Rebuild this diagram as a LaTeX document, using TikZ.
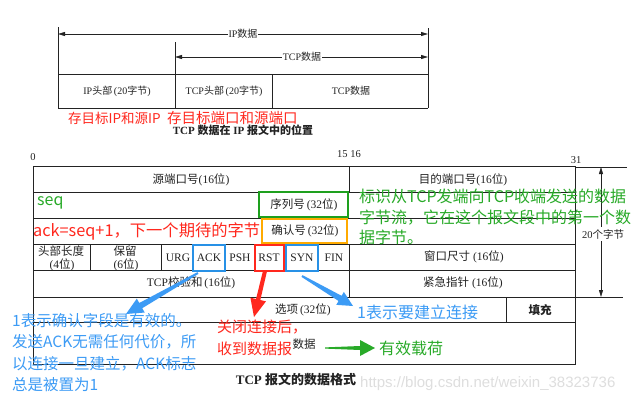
\documentclass[tikz,border=0pt]{standalone}
\usepackage{fontspec}
\setmainfont{Liberation Serif}
\newfontfamily\cjk{Noto Sans CJK SC}
\newfontfamily\wmfont{Liberation Sans}
\usetikzlibrary{calc,arrows.meta}
\newcommand\C[1]{{\cjk #1}}
\definecolor{annGreen}{RGB}{40,170,40}
\definecolor{boxGreen}{RGB}{30,160,30}
\definecolor{annBlue}{RGB}{60,155,245}
\definecolor{boxBlue}{RGB}{40,145,230}
\definecolor{annRed}{RGB}{255,40,30}
\definecolor{boxOrange}{RGB}{255,170,0}
\definecolor{ink}{RGB}{35,35,35}
\newcommand\taparrow[7]{%
  \coordinate (tpneck) at ($(#2)!#6!(#1)$);
  \fill[#3] ($(#1)!#4!90:(#2)$) -- ($(tpneck)!#5!90:(#2)$) -- ($(tpneck)!#7!90:(#2)$)
    -- (#2) -- ($(tpneck)!#7!-90:(#2)$) -- ($(tpneck)!#5!-90:(#2)$) -- ($(#1)!#4!-90:(#2)$) -- cycle;
}
\begin{document}
\begin{tikzpicture}[x=1pt,y=-1pt,
  grid/.style={draw=ink,line width=0.9pt},
  dim/.style={draw=ink,line width=0.8pt,{Triangle[length=7pt,width=4pt]}-{Triangle[length=7pt,width=4pt]}},
  ptop/.style={font=\fontsize{10}{12}\selectfont,text=ink,inner sep=0pt},
  ptxt/.style={font=\fontsize{11.5}{13}\selectfont,text=ink,inner sep=0pt},
  ann/.style={font=\cjk\fontsize{15.5}{21.5}\selectfont,inner sep=0pt,align=left,anchor=west},
  hbox/.style={line width=2.5pt},
]
\useasboundingbox (0,0) rectangle (641,402);
\fill[white] (0,0) rectangle (641,402);

% ---------- top: TCP in IP ----------
\coordinate (ipL) at (58,34);
\coordinate (ipR) at (428,34);
\coordinate (tcpL) at (175,57);
\coordinate (tcpR) at (428,57);
\draw[grid] (58,27) -- (58,108);
\draw[grid] (428,28) -- (428,108);
\draw[grid] (175,42) -- (175,108);
\draw[grid] (272,74) -- (272,108);
\draw[grid] (58,74) -- (428,74);
\draw[grid] (58,108) -- (428,108);
\draw[dim] (ipL) -- (ipR);
\draw[dim] (tcpL) -- (tcpR);
\node[ptop,fill=white,inner xsep=1pt] (iplab) at (243,34) {IP\C{数据}};
\node[ptop,fill=white,inner xsep=1pt] (tcplab) at (302,57) {TCP\C{数据}};
\node[ptop] (iphead) at (117,91) {IP\C{头部}\,(20\C{字节})};
\node[ptop] (tcphead) at (224,91) {TCP\C{头部}\,(20\C{字节})};
\node[ptop] (tcpdata) at (351,91) {TCP\C{数据}};
\node[font=\cjk\fontsize{13.5}{16}\selectfont,text=annRed,inner sep=0pt,anchor=west] (ipnote) at (68,118) {存目标IP和源IP};
\node[font=\cjk\fontsize{14.5}{16}\selectfont,text=annRed,inner sep=0pt,anchor=west] (portnote) at (167,118) {存目标端口和源端口};
\node[font=\bfseries\fontsize{11}{13}\selectfont,text=ink,inner sep=0pt] (cap1) at (243,130) {TCP \C{数据在} IP \C{报文中的位置}};

% ---------- bottom: TCP header ----------
\node[ptxt,font=\fontsize{10.5}{12}\selectfont] (b0) at (33,157) {0};
\node[ptxt,font=\fontsize{10.5}{12}\selectfont] (b15) at (349,154) {15 16};
\node[ptxt,font=\fontsize{10.5}{12}\selectfont] (b31) at (576,160) {31};

\draw[grid] (33,166) rectangle (575,364);
\foreach \yy in {192,218,244,270,297,322} \draw[grid] (33,\yy) -- (575,\yy);
\draw[grid] (349,166) -- (349,192);
\draw[grid] (349,244) -- (349,297);
\draw[grid] (90,244) -- (90,270);
\draw[grid] (161,244) -- (161,270);
\draw[grid] (506,297) -- (506,322);
\draw[grid] (575,167) -- (627,167);
\draw[grid] (575,297) -- (623,297);
\coordinate (szT) at (601,167);
\coordinate (szB) at (601,297);
\draw[dim] (szT) -- (szB);
\node[font=\fontsize{10.5}{12}\selectfont,text=ink,fill=white,inner xsep=0pt,inner ysep=2pt] (sz) at (603,234) {20\C{个字节}};

% row 1
\node[ptxt] (srcport) at (191,180) {\C{源端口号}(16\C{位})};
\node[ptxt] (dstport) at (463,180) {\C{目的端口号}(16\C{位})};
% row 2
\draw[boxGreen,hbox] (259,192) rectangle (348,217);
\node[ptxt] (seqno) at (304,205) {\C{序列号}\,(32\C{位})};
\node[font=\cjk\fontsize{16}{18}\selectfont,text=annGreen,inner sep=0pt,anchor=west] (seqlab) at (37,203) {seq};
% row 3
\draw[boxOrange,hbox] (262,219) rectangle (347,243);
\node[ptxt] (ackno) at (305,231) {\C{确认号}\,(32\C{位})};
\node[font=\cjk\fontsize{16.3}{18}\selectfont,text=annRed,inner sep=0pt,anchor=west] (acklab) at (33,231) {ack=seq+1，下一个期待的字节};
% row 4
\node[ptxt] (hl1) at (61,251) {\C{头部长度}};
\node[ptxt] (hl2) at (61,265) {\,(4\C{位})};
\node[ptxt] (rs1) at (125,251) {\C{保留}};
\node[ptxt] (rs2) at (125,265) {\,(6\C{位})};
\node[ptxt] (urg) at (178,258) {URG};
\node[ptxt] (ack) at (209,258) {ACK};
\node[ptxt] (psh) at (240,258) {PSH};
\node[ptxt] (rst) at (269,258) {RST};
\node[ptxt] (syn) at (302,258) {SYN};
\node[ptxt] (fin) at (334,258) {FIN};
\draw[boxBlue,hbox] (193,245) rectangle (225,271);
\draw[annRed,hbox] (255,245) rectangle (284,271);
\draw[boxBlue,hbox] (286,245) rectangle (318,271);
\node[ptxt] (win) at (464,257) {\C{窗口尺寸} (16\C{位})};
% row 5
\node[ptxt] (cks) at (191,283) {TCP\C{校验和}\,(16\C{位})};
\node[ptxt] (urgp) at (463,283) {\C{紧急指针} (16\C{位})};
% row 6
\node[ptxt] (opt) at (303,310) {\C{选项}\,(32\C{位})};
\node[ptxt,font=\cjk\bfseries\fontsize{11.5}{13}\selectfont] (pad) at (540,310) {填充};
% row 7
\node[ptxt] (data) at (304,344) {\C{数据}};
\node[font=\bfseries\fontsize{13}{15}\selectfont,text=ink,inner sep=0pt] (cap2) at (296,380) {TCP \C{报文的数据格式}};

% ---------- annotations ----------
\node[ann,text=annGreen,font=\cjk\fontsize{16}{20.5}\selectfont,anchor=north west] (seqnote) at (359,189)
  {标识从TCP发端向TCP收端发送的数据\\字节流，它在这个报文段中的第一个数\\据字节。};
\node[ann,text=annBlue,anchor=north west] (acknote) at (12,313)
  {1表示确认字段是有效的。\\发送ACK无需任何代价，所\\以连接一旦建立，ACK标志\\总是被置为1};
\node[ann,text=annRed,font=\cjk\fontsize{15}{22}\selectfont,anchor=north west] (rstnote) at (217,320)
  {关闭连接后，\\收到数据报};
\node[ann,text=annBlue,font=\cjk\fontsize{16}{18}\selectfont] (synnote) at (357,312) {1表示要建立连接};
\node[ann,text=annGreen,font=\cjk\fontsize{16}{18}\selectfont] (datanote) at (379,348) {有效载荷};

\coordinate (ackT) at (198,273);
\coordinate (ackH) at (126,314);
\coordinate (rstT) at (265,271);
\coordinate (rstH) at (254,317);
\coordinate (synT) at (302,276);
\coordinate (synH) at (353,306);
\coordinate (datT) at (325,348);
\coordinate (datH) at (375,348);
\taparrow{ackT}{ackH}{annBlue}{1pt}{3pt}{17pt}{8pt}
\taparrow{rstT}{rstH}{annRed}{2pt}{2.2pt}{18pt}{8pt}
\taparrow{synT}{synH}{annBlue}{1pt}{3pt}{15pt}{7.5pt}
\taparrow{datT}{datH}{annGreen}{0.6pt}{2pt}{15pt}{8pt}

\node[font=\wmfont\fontsize{15}{17}\selectfont,text=black!13,inner sep=0pt,anchor=west] (wm) at (360,384) {https://blog.csdn.net/weixin\_38323736};
\end{tikzpicture}
\end{document}
